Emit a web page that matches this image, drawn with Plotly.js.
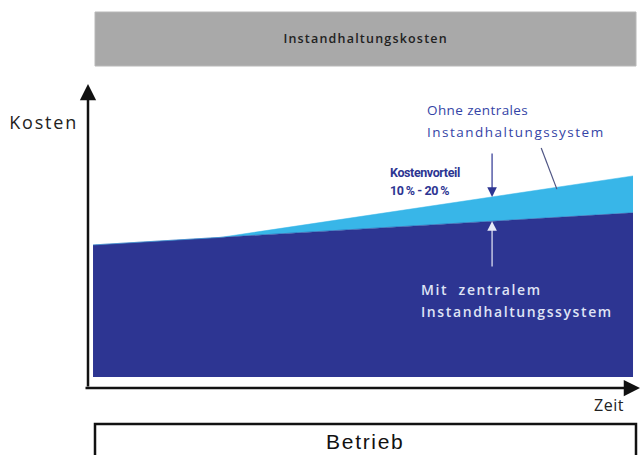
<!DOCTYPE html>
<html><head><meta charset="utf-8">
<script src="https://cdn.plot.ly/plotly-3.0.1.min.js"></script>
<style>
html,body{margin:0;padding:0;background:#fff}#c{width:641px;height:455px}
g.annotation[data-index="4"] text{letter-spacing:1.2px}
g.annotation[data-index="5"] text{letter-spacing:1.7px}
g.annotation[data-index="6"] text{letter-spacing:1.8px}
g.annotation[data-index="7"] text{letter-spacing:0.5px}
g.annotation[data-index="8"] text{letter-spacing:0.4px}
g.annotation[data-index="9"] text{letter-spacing:1.5px}
g.annotation[data-index="10"] text, g.annotation[data-index="11"] text{letter-spacing:-0.4px}
g.annotation[data-index="12"] text, g.annotation[data-index="13"] text{letter-spacing:1.6px}
</style>
</head><body><div id="c"></div>
<script>
// Data (time in arbitrary units 0..100, cost in arbitrary units)
const zeit = [0, 23.5, 100];
const mitSystem = [44, 46.5, 54.7];
const ohneSystem = [44, 46.5, 67];
const vorteilZeit = 73.9;
const vorteilOhne = 60.0;
const vorteilMit = 51.9;

const W = 641, H = 455, L = 88, R = 0, T = 85, B = 67;
const pw = W - L - R, ph = H - T - B;
const px = x => (x - L) / pw;
const py = y => (H - B - y) / ph;

const font = "Open Sans, Noto Sans, sans-serif";
const darkBlue = '#2d3592', lightBlue = '#38b6e8';

const traces = [
  {x: zeit, y: mitSystem, type: 'scatter', mode: 'lines', fill: 'tozeroy',
   fillcolor: darkBlue, line: {color: darkBlue, width: 0.5}, hoverinfo: 'skip'},
  {x: zeit, y: ohneSystem, type: 'scatter', mode: 'lines', fill: 'tonexty',
   fillcolor: lightBlue, line: {color: lightBlue, width: 0.5}, hoverinfo: 'skip'}
];

function txt(xref, yref, x, y, text, xanchor, f) {
  return {xref, yref, x, y, text, xanchor, yanchor: 'middle',
          align: xanchor === 'center' ? 'center' : xanchor, showarrow: false, font: f};
}

const layout = {
  width: W, height: H,
  margin: {l: L, r: R, t: T, b: B},
  paper_bgcolor: '#ffffff', plot_bgcolor: 'rgba(0,0,0,0)',
  showlegend: false,
  xaxis: {range: [-0.93, 101.48], visible: false, fixedrange: true},
  yaxis: {range: [-3.67, 97.3], visible: false, fixedrange: true},
  shapes: [
    {type: 'rect', xref: 'paper', yref: 'paper', x0: px(95), x1: px(636), y0: py(66), y1: py(12),
     fillcolor: '#a9a9a9', line: {color: '#b8b8b8', width: 1}, layer: 'below'},
    {type: 'rect', xref: 'paper', yref: 'paper', x0: px(95), x1: px(636), y0: py(470), y1: py(424),
     fillcolor: '#ffffff', line: {color: '#111111', width: 2.5}},
    {type: 'line', xref: 'x', yref: 'y', x0: 83, y0: 76.3, x1: 85.9, y1: 62.6,
     line: {color: '#4f5584', width: 1.2}}
  ],
  annotations: [
    // axes arrows
    {xref: 'paper', yref: 'paper', x: px(88), y: py(84), ax: 0, ay: 304, axref: 'pixel', ayref: 'pixel',
     showarrow: true, arrowhead: 2, arrowsize: 1.3, arrowwidth: 2.5, arrowcolor: '#111', standoff: 0, text: ''},
    {xref: 'paper', yref: 'paper', x: px(640), y: py(388), ax: -556, ay: 0,
     showarrow: true, arrowhead: 2, arrowsize: 1.3, arrowwidth: 2.5, arrowcolor: '#111', standoff: 0, text: ''},
    // Kostenvorteil arrows
    {xref: 'x', yref: 'y', x: vorteilZeit, y: vorteilOhne, axref: 'x', ayref: 'y', ax: vorteilZeit, ay: 75,
     showarrow: true, arrowhead: 2, arrowsize: 1.6, arrowwidth: 1.2, arrowcolor: darkBlue, standoff: 0, text: ''},
    {xref: 'x', yref: 'y', x: vorteilZeit, y: vorteilMit, axref: 'x', ayref: 'y', ax: vorteilZeit, ay: 36.3,
     showarrow: true, arrowhead: 2, arrowsize: 1.6, arrowwidth: 1.2, arrowcolor: '#e6e9f7', standoff: 0, text: ''},
    // texts
    txt('paper', 'paper', px(365), py(39), 'Instandhaltungskosten', 'center',
        {family: font, size: 12.5, color: '#222', weight: 600}),
    txt('paper', 'paper', px(365), py(441), 'Betrieb', 'center',
        {family: 'Liberation Sans, Arial, sans-serif', size: 21, color: '#111'}),
    txt('paper', 'paper', px(80), py(122), 'Kosten', 'right',
        {family: font, size: 18, color: '#222'}),
    txt('paper', 'paper', px(626), py(405), 'Zeit', 'right',
        {family: font, size: 16, color: '#222'}),
    txt('x', 'y', 61.5, 89, 'Ohne zentrales', 'left',
        {family: font, size: 13.5, color: '#3444a6'}),
    txt('x', 'y', 61.5, 81.7, 'Instandhaltungssystem', 'left',
        {family: font, size: 13.5, color: '#3444a6'}),
    txt('x', 'y', 54.6, 68.3, 'Kostenvorteil', 'left',
        {family: 'Roboto, sans-serif', size: 12.5, color: darkBlue, weight: 700}),
    txt('x', 'y', 54.6, 62.3, '10\u2009% - 20\u2009%', 'left',
        {family: 'Roboto, sans-serif', size: 12.5, color: darkBlue, weight: 700}),
    txt('x', 'y', 60.4, 29, 'Mit\u00a0 zentralem', 'left',
        {family: font, size: 14, color: '#dfe3f5', weight: 600}),
    txt('x', 'y', 60.4, 21.7, 'Instandhaltungssystem', 'left',
        {family: font, size: 14, color: '#dfe3f5', weight: 600})
  ]
};

Plotly.newPlot('c', traces, layout, {displayModeBar: false, staticPlot: true});
</script></body></html>
